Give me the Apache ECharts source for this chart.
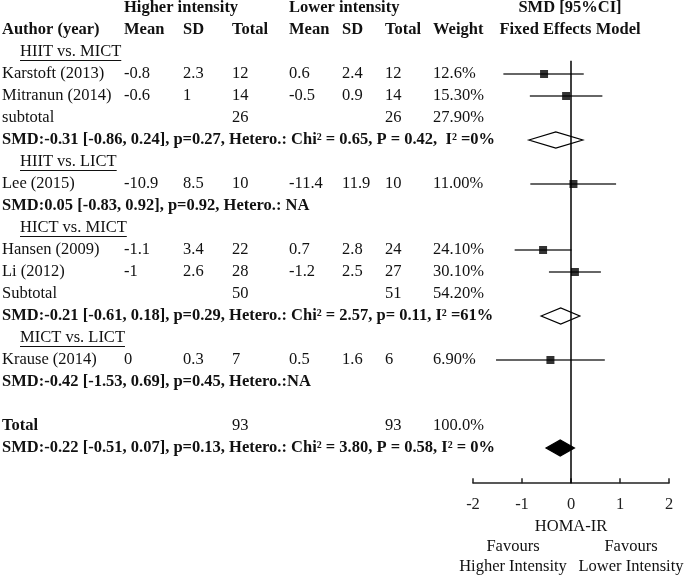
<!DOCTYPE html>
<html><head><meta charset="utf-8">
<script src="https://cdn.jsdelivr.net/npm/echarts@6/dist/echarts.min.js"></script>
<style>html,body{margin:0;padding:0;background:#fff}#c{width:685px;height:577px}</style>
</head><body><div id="c"></div><script>
// ---------------- data ----------------
const studies = ['Karstoft (2013)', 'Mitranun (2014)', 'Lee (2015)', 'Hansen (2009)', 'Li (2012)', 'Krause (2014)'];
const hiMean = ['-0.8', '-0.6', '-10.9', '-1.1', '-1', '0'];
const hiSD = ['2.3', '1', '8.5', '3.4', '2.6', '0.3'];
const hiN = ['12', '14', '10', '22', '28', '7'];
const loMean = ['0.6', '-0.5', '-11.4', '0.7', '-1.2', '0.5'];
const loSD = ['2.4', '0.9', '11.9', '2.8', '2.5', '1.6'];
const loN = ['12', '14', '10', '24', '27', '6'];
const weights = ['12.6%', '15.30%', '11.00%', '24.10%', '30.10%', '6.90%'];
const smd = [-0.55, -0.10, 0.05, -0.57, 0.08, -0.42];
const smdLo = [-1.38, -0.84, -0.83, -1.15, -0.45, -1.53];
const smdHi = [0.26, 0.64, 0.92, 0.01, 0.61, 0.69];

const groups = ['HIIT vs. MICT', 'HIIT vs. LICT', 'HICT vs. MICT', 'MICT vs. LICT'];
const subLabels = ['subtotal', 'Subtotal', 'Total'];
const subHiN = ['26', '50', '93'];
const subLoN = ['26', '51', '93'];
const subW = ['27.90%', '54.20%', '100.0%'];

const summaryText = [
  'SMD:-0.31 [-0.86, 0.24], p=0.27, Hetero.: Chi\u00b2 = 0.65, P = 0.42,  I\u00b2 =0%',
  'SMD:0.05 [-0.83, 0.92], p=0.92, Hetero.: NA',
  'SMD:-0.21 [-0.61, 0.18], p=0.29, Hetero.: Chi\u00b2 = 2.57, p= 0.11, I\u00b2 =61%',
  'SMD:-0.42 [-1.53, 0.69], p=0.45, Hetero.:NA',
  'SMD:-0.22 [-0.51, 0.07], p=0.13, Hetero.: Chi\u00b2 = 3.80, P = 0.58, I\u00b2 = 0%'
];
const pooledEst = [-0.31, -0.21, -0.22];
const pooledLo = [-0.86, -0.61, -0.51];
const pooledHi = [0.24, 0.18, 0.07];
const xTicks = [-2, -1, 0, 1, 2];

// ---------------- layout ----------------
const FONT = '"Liberation Serif", "Times New Roman", serif';
const FS = 16.5;
const groupRows = [2, 7, 10, 15];
const studyRows = [3, 4, 8, 11, 12, 16];
const subRows = [5, 13, 19];
const summaryRows = [6, 9, 14, 17, 20];
const pooledRows = [6, 14, 20];
const pooledFilled = [false, false, true];
const COL = {author: 2, hm: 124, hs: 183, hn: 232, lm: 289, ls: 342, ln: 385, w: 433, plot: 570, fav1: 513, fav2: 631};
const ROW_MAX = 21.6;

const texts = [];
function T(x, row, text, opt) { texts.push(Object.assign({x, row, text, bold: false, align: 'left', ul: false}, opt || {})); }
T(COL.hm, 0, 'Higher intensity', {bold: true});
T(COL.lm, 0, 'Lower intensity', {bold: true});
T(COL.plot, 0, 'SMD [95%CI]', {bold: true, align: 'center'});
T(COL.author, 1, 'Author (year)', {bold: true});
T(COL.hm, 1, 'Mean', {bold: true});
T(COL.hs, 1, 'SD', {bold: true});
T(COL.hn, 1, 'Total', {bold: true});
T(COL.lm, 1, 'Mean', {bold: true});
T(COL.ls, 1, 'SD', {bold: true});
T(COL.ln, 1, 'Total', {bold: true});
T(COL.w, 1, 'Weight', {bold: true});
T(COL.plot, 1, 'Fixed Effects Model', {bold: true, align: 'center'});
groups.forEach((g, i) => T(20, groupRows[i], g, {ul: true}));
studies.forEach((s, i) => {
  const r = studyRows[i];
  T(COL.author, r, s); T(COL.hm, r, hiMean[i]); T(COL.hs, r, hiSD[i]); T(COL.hn, r, hiN[i]);
  T(COL.lm, r, loMean[i]); T(COL.ls, r, loSD[i]); T(COL.ln, r, loN[i]); T(COL.w, r, weights[i]);
});
subLabels.forEach((s, i) => {
  const r = subRows[i];
  T(COL.author, r, s, {bold: i === 2}); T(COL.hn, r, subHiN[i]); T(COL.ln, r, subLoN[i]); T(COL.w, r, subW[i]);
});
summaryText.forEach((s, i) => T(COL.author, summaryRows[i], s, {bold: true}));
T(COL.fav1, 24.5, 'Favours', {align: 'center'});
T(COL.fav1, 25.4, 'Higher Intensity', {align: 'center'});
T(COL.fav2, 24.5, 'Favours', {align: 'center'});
T(COL.fav2, 25.4, 'Lower Intensity', {align: 'center'});

const mctx = document.createElement('canvas').getContext('2d');
function fontOf(b) { return (b ? 'bold ' : '') + FS + 'px ' + FONT; }

const chart = echarts.init(document.getElementById('c'), null, {renderer: 'canvas'});
const gridTop = 8, gridH = 475.2;
chart.setOption({
  animation: false,
  backgroundColor: '#fff',
  grid: [
    {left: 0, top: gridTop, width: 685, height: gridH},
    {left: 473, top: gridTop, width: 196, height: gridH}
  ],
  xAxis: [
    {gridIndex: 0, type: 'value', min: 0, max: 685, show: false},
    {gridIndex: 1, type: 'value', min: -2, max: 2, interval: 1,
     splitLine: {show: false},
     axisLine: {show: true, onZero: false, lineStyle: {color: '#222', width: 1.5}},
     axisTick: {show: true, inside: true, length: 5, lineStyle: {color: '#222', width: 1.5}},
     axisLabel: {margin: 13, color: '#222', fontFamily: FONT, fontSize: FS,
                 customValues: xTicks},
     name: 'HOMA-IR', nameLocation: 'middle', nameGap: 34,
     nameTextStyle: {color: '#111', fontFamily: FONT, fontSize: FS}}
  ],
  yAxis: [
    {gridIndex: 0, type: 'value', min: 0, max: ROW_MAX, inverse: true, show: false},
    {gridIndex: 1, type: 'value', min: 0, max: ROW_MAX, inverse: true, show: false}
  ],
  series: [
    { // table text
      type: 'custom', xAxisIndex: 0, yAxisIndex: 0, clip: false, silent: true,
      data: texts.map(t => [t.x, t.row]),
      renderItem: function (params, api) {
        const t = texts[params.dataIndex];
        const p = api.coord([t.x, t.row]);
        const font = fontOf(t.bold);
        const children = [{
          type: 'text', x: p[0], y: p[1],
          style: {text: t.text, font: font, fill: '#111', align: t.align, verticalAlign: 'middle',
                  textAlign: t.align, textVerticalAlign: 'middle'}
        }];
        if (t.ul) {
          mctx.font = font;
          const w = mctx.measureText(t.text).width;
          children.push({type: 'line', shape: {x1: p[0], y1: p[1] + 8.5, x2: p[0] + w, y2: p[1] + 8.5},
                         style: {stroke: '#111', lineWidth: 1}});
        }
        return {type: 'group', children: children};
      }
    },
    { // zero reference line
      type: 'line', xAxisIndex: 1, yAxisIndex: 1, silent: true, symbol: 'none',
      data: [[0, 2.4], [0, ROW_MAX]],
      lineStyle: {color: '#000', width: 1.5}
    },
    { // confidence intervals
      type: 'custom', xAxisIndex: 1, yAxisIndex: 1, clip: false, silent: true,
      data: studies.map((s, i) => [smdLo[i], smdHi[i], studyRows[i]]),
      renderItem: function (params, api) {
        const a = api.coord([api.value(0), api.value(2)]);
        const b = api.coord([api.value(1), api.value(2)]);
        return {type: 'line', shape: {x1: a[0], y1: a[1], x2: b[0], y2: b[1]},
                style: {stroke: '#333', lineWidth: 1.5}};
      }
    },
    { // point estimates
      type: 'scatter', xAxisIndex: 1, yAxisIndex: 1, silent: true,
      symbol: 'rect', symbolSize: 8,
      itemStyle: {color: '#000'},
      data: studies.map((s, i) => [smd[i], studyRows[i]])
    },
    { // pooled diamonds
      type: 'custom', xAxisIndex: 1, yAxisIndex: 1, clip: false, silent: true,
      data: pooledEst.map((e, i) => [pooledLo[i], e, pooledHi[i], pooledRows[i]]),
      renderItem: function (params, api) {
        const r = api.value(3);
        const l = api.coord([api.value(0), r]);
        const c = api.coord([api.value(1), r]);
        const h = api.coord([api.value(2), r]);
        const filled = pooledFilled[params.dataIndex];
        return {type: 'polygon',
                shape: {points: [[l[0], l[1]], [c[0], c[1] - 8], [h[0], h[1]], [c[0], c[1] + 8]]},
                style: {fill: filled ? '#000' : '#fff', stroke: '#000', lineWidth: 1.2}};
      }
    }
  ]
});
</script></body></html>
